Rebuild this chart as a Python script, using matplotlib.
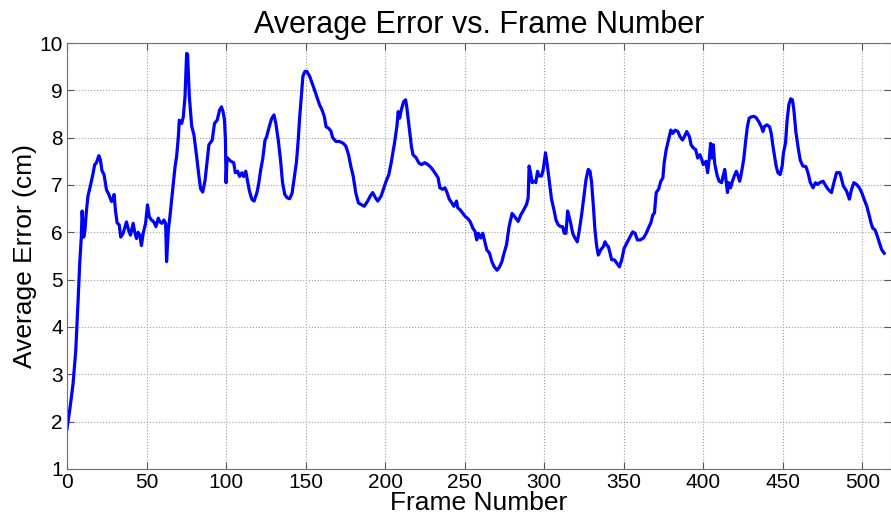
import matplotlib
matplotlib.use('Agg')
from matplotlib import pyplot as plt

# values
frames = [0, 1.7, 3.8, 5.5, 6.9, 8, 9, 9.5, 10.5, 11.3, 12.2, 13.2, 14.7, 16.4, 17.4, 18.5, 20, 21, 22, 23.3,
          24.8, 26.3, 28, 29, 29.6, 30.5, 31.5, 32.8, 33.8, 35.3, 37.4, 38.7, 39.9, 41.6, 42.6, 43.7, 44.7,
          45.8, 46.8, 47.9, 49.4, 50.6, 51.7, 53.1, 54.6, 55.9, 57.4, 58.4, 59.7, 60.9, 62, 62.6, 63.7, 64.7,
          66.4, 67.9, 68.9, 70, 70.6, 72.1, 73.1, 74.2, 75.2, 75.8, 76.9, 78.4, 79.8, 81.5, 83, 84, 85.3,
          86.8, 88.2, 89.2, 91.3, 92.7, 94.4, 95.9, 97.1, 98.1, 99, 99.6, 100, 100.6, 101.7, 103.1, 104.8,
          105.8, 107.3, 108.5, 110, 111, 112.4, 113.5, 114.7, 116.2, 117.6, 119.3, 120.3, 121.8, 123, 124.5,
          125.5, 127.2, 128.6, 130.1, 131.3, 132.8, 134.2, 135.5, 136.9, 138.4, 140, 141.5, 142.7, 144.2,
          145.2, 146.3, 147.3, 148.3, 149.6, 150.8, 152.5, 154.1, 155.6, 157, 158.7, 160.4, 161.8, 162.9,
          164.5, 166, 167, 169.1, 171.2, 173.7, 175.3, 177, 178.4, 179.9, 181.5, 183.2, 184.8, 186.9, 189,
          190.7, 192.2, 193.9, 195.4, 197.5, 198.9, 200.6, 202.3, 203.8, 205.9, 207.4, 208.2, 209.1, 210.1,
          211.6, 212.9, 213.7, 215, 216.5, 217.5, 219.6, 221.1, 222.8, 224.9, 227, 229.1, 231.2, 233.3,
          234.4, 236.1, 237.6, 238.6, 240.3, 241.8, 243.2, 244.9, 245.6, 247, 248.7, 250.2, 251.7, 253.4,
          255.1, 256.5, 257.6, 258.6, 260.1, 261.4, 262.4, 263.9, 265.6, 267.1, 268.6, 270.3, 271.9, 273.4,
          274.2, 276.3, 277.9, 279.8, 281.5, 283.6, 285.3, 287.2, 288.9, 289.9, 290.5, 291.4, 292.4, 293.7,
          294.7, 295.8, 296.8, 298.3, 299.4, 300.8, 301.9, 303.2, 304.6, 306.1, 307.4, 308.8, 310.3, 311.6,
          312.6, 313.7, 314.7, 315.5, 316.6, 317.9, 319.3, 320.8, 322.1, 323.5, 325, 326.3, 327.7, 328.8,
          329.8, 330.9, 331.9, 333, 334, 335.5, 337.2, 338.2, 339.3, 340.3, 341.4, 342.4, 344.1, 345.6,
          347.3, 348.7, 350.2, 351.9, 354, 355.7, 357.1, 358.6, 360.3, 362.4, 364.1, 365.5, 367, 368.3,
          369.3, 370.4, 371.9, 373.3, 374.6, 375.4, 376.7, 378.1, 379.6, 380.8, 382.3, 384, 385.4, 386.9,
          388.1, 389.6, 391.3, 392.3, 393.8, 395.2, 396.5, 397.9, 399, 400, 401.7, 402.7, 403.8, 404.6,
          405.4, 406.3, 407.1, 407.9, 408.8, 410, 411.5, 412.5, 413.5, 414.6, 415.2, 416, 417.1, 418.3,
          419.8, 420.8, 421.9, 422.9, 424, 425.4, 426.7, 427.7, 428.8, 430.2, 431.9, 433.3, 435, 436.5,
          437.5, 438.5, 440, 441.7, 442.7, 443.8, 444.8, 445.8, 446.9, 448.3, 449.6, 450.4, 451.7, 452.7,
          453.8, 455, 456, 456.9, 458.2, 459.8, 461, 462.6, 464.5, 465.8, 467.3, 469, 470.5, 471.7, 473.2,
          475.3, 477, 478.5, 480.6, 482.1, 483.8, 485.9, 488, 490.1, 491.8, 493.2, 494.7, 496.4, 498.1,
          499.6, 501.1, 502.7, 504.2, 505.5, 506.5, 508, 509.5, 510.8, 512.2, 513.7]

errors = [1.85, 2.24, 2.8, 3.5, 4.5, 5.35, 5.9, 6.45, 5.9, 6.05, 6.45, 6.77, 6.98, 7.25, 7.43, 7.47, 7.62, 7.53,
          7.3, 7.22, 6.9, 6.8, 6.65, 6.72, 6.8, 6.45, 6.2, 6.16, 5.9, 5.98, 6.22, 6.05, 5.94, 6.19, 6.0, 5.87,
          6.0, 5.94, 5.72, 5.98, 6.19, 6.58, 6.33, 6.26, 6.22, 6.12, 6.3, 6.22, 6.19, 6.26, 6.19, 5.38, 6.05,
          6.33, 6.9, 7.38, 7.6, 8.02, 8.37, 8.3, 8.44, 8.87, 9.78, 9.76, 8.87, 8.24, 8.06, 7.6, 7.17, 6.92,
          6.85, 7.1, 7.54, 7.85, 7.95, 8.3, 8.37, 8.58, 8.65, 8.55, 8.37, 7.95, 7.05, 7.58, 7.54, 7.5, 7.47,
          7.26, 7.29, 7.18, 7.26, 7.18, 7.29, 7.08, 6.87, 6.7, 6.66, 6.83, 6.98, 7.33, 7.54, 7.95, 8.02, 8.24,
          8.4, 8.48, 8.3, 7.95, 7.54, 7.05, 6.8, 6.73, 6.71, 6.83, 7.12, 7.47, 7.88, 8.44, 8.87, 9.3, 9.4,
          9.4, 9.3, 9.15, 9.01, 8.87, 8.7, 8.58, 8.44, 8.23, 8.2, 8.13, 8.0, 7.92, 7.92, 7.88, 7.82, 7.64,
          7.4, 7.19, 6.84, 6.62, 6.59, 6.55, 6.66, 6.77, 6.84, 6.73, 6.66, 6.77, 6.91, 7.08, 7.22, 7.47, 7.89,
          8.24, 8.55, 8.41, 8.58, 8.76, 8.8, 8.62, 8.24, 7.82, 7.64, 7.57, 7.47, 7.43, 7.47, 7.43, 7.36, 7.26,
          7.15, 6.94, 6.91, 6.94, 6.87, 6.7, 6.63, 6.55, 6.66, 6.52, 6.48, 6.41, 6.34, 6.3, 6.23, 6.09, 6.02,
          5.84, 5.98, 5.88, 5.98, 5.84, 5.63, 5.56, 5.38, 5.27, 5.2, 5.27, 5.38, 5.49, 5.74, 6.12, 6.4, 6.33,
          6.23, 6.37, 6.48, 6.59, 6.73, 7.4, 7.26, 7.05, 7.08, 7.05, 7.29, 7.19, 7.19, 7.33, 7.68, 7.43, 7.08,
          6.7, 6.48, 6.26, 6.16, 6.12, 6.12, 5.98, 5.98, 6.45, 6.35, 6.2, 5.98, 5.88, 5.8, 6.05, 6.37, 6.77,
          7.12, 7.33, 7.29, 7.05, 6.55, 6.05, 5.7, 5.52, 5.63, 5.7, 5.8, 5.73, 5.7, 5.56, 5.42, 5.42, 5.35,
          5.27, 5.42, 5.66, 5.77, 5.91, 6.01, 5.98, 5.84, 5.84, 5.88, 5.98, 6.09, 6.2, 6.37, 6.41, 6.84, 6.91,
          7.08, 7.15, 7.47, 7.75, 7.95, 8.16, 8.09, 8.16, 8.13, 8.02, 7.95, 8.02, 8.13, 8.02, 7.85, 7.78, 7.75,
          7.57, 7.64, 7.54, 7.43, 7.5, 7.26, 7.57, 7.88, 7.57, 7.85, 7.47, 7.33, 7.19, 7.08, 7.05, 7.19, 7.33,
          7.01, 6.84, 7.05, 6.94, 7.08, 7.22, 7.29, 7.19, 7.08, 7.26, 7.54, 7.95, 8.23, 8.41, 8.44, 8.45, 8.42,
          8.33, 8.23, 8.13, 8.24, 8.27, 8.23, 8.09, 7.82, 7.61, 7.4, 7.26, 7.22, 7.4, 7.68, 7.89, 8.37, 8.7,
          8.82, 8.8, 8.6, 8.12, 7.75, 7.52, 7.4, 7.39, 7.26, 7.05, 6.94, 7.05, 7.01, 7.05, 7.08, 6.98, 6.91,
          6.84, 7.05, 7.26, 7.26, 6.98, 6.87, 6.7, 6.91, 7.05, 7.01, 6.94, 6.84, 6.7, 6.56, 6.37, 6.19, 6.09,
          6.05, 5.91, 5.77, 5.63, 5.56]

plt.rcParams['font.family'] = ['Liberation Sans', 'DejaVu Sans']

fig = plt.figure(figsize=(8.91, 5.24), dpi=100)
ax = fig.add_axes([67 / 891, 55 / 524, 824 / 891, 426 / 524])

ax.plot(frames, errors, color='#0000ff', lw=2.3)

ax.set_xlim(0, 518)
ax.set_ylim(1, 10)
ax.set_xticks(range(0, 501, 50))
ax.set_yticks(range(1, 11))
ax.grid(True, ls=':', color='#a0a0a0', lw=0.8)
ax.tick_params(direction='in', length=5, labelsize=15, top=True, right=True, color='#555555', pad=3)
for s in ax.spines.values():
    s.set_color('#707070')

ax.set_title('Average Error vs. Frame Number', fontsize=22, pad=7)
ax.set_xlabel('Frame Number', fontsize=19, labelpad=-1)
ax.set_ylabel('Average Error (cm)', fontsize=19, labelpad=2)

fig.savefig('out.png', dpi=100)
